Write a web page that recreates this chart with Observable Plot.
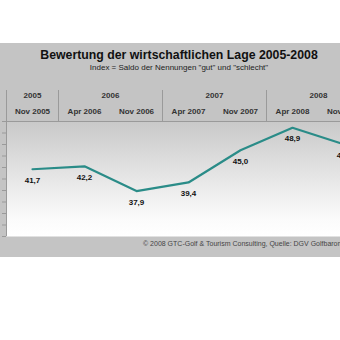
<!DOCTYPE html>
<html><head><meta charset="utf-8">
<script src="https://cdn.jsdelivr.net/npm/d3@7"></script>
<script src="https://cdn.jsdelivr.net/npm/@observablehq/plot@0.6"></script>
<style>
html,body{margin:0;padding:0;background:#fff;overflow:hidden;width:340px;height:340px}
#box{position:absolute;left:0;top:43px;width:370px;height:214px;background:#c4c4c4;font-family:"Liberation Sans",Arial,sans-serif}
#title{position:absolute;top:5px;left:0;width:358px;text-align:center;font-weight:bold;font-size:12.3px;line-height:14px;color:#111}
#subtitle{position:absolute;top:20px;left:0;width:358px;text-align:center;font-size:8px;line-height:10px;color:#222}
#header{position:absolute;top:47px;left:0}
#plot{position:absolute;top:78px;left:0}
#caption{position:absolute;top:196px;left:143px;font-size:7px;line-height:9px;color:#444;white-space:nowrap}
svg{display:block;overflow:visible}
</style>
</head><body>
<div id="box">
  <div id="title"></div>
  <div id="subtitle"></div>
  <div id="header"></div>
  <div id="plot"></div>
  <div id="caption"></div>
</div>
<script>
const titleText = "Bewertung der wirtschaftlichen Lage 2005-2008";
const subtitleText = "Index = Saldo der Nennungen \"gut\" und \"schlecht\"";
const captionText = "© 2008 GTC-Golf & Tourism Consulting, Quelle: DGV Golfbarometer";
const months = ["Nov 2005","Apr 2006","Nov 2006","Apr 2007","Nov 2007","Apr 2008","Nov 2008"];
const values = [41.7, 42.2, 37.9, 39.4, 45.0, 48.9, 46.0];
const yDomain = [30, 50];
const yTicks = d3.range(30, 51, 2);

document.getElementById("title").textContent = titleText;
document.getElementById("subtitle").textContent = subtitleText;
document.getElementById("caption").textContent = captionText;

const data = months.map((m, i) => ({i, m, v: values[i], year: m.split(" ")[1]}));
const yearGroups = d3.groups(data, d => d.year).map(([year, ds]) => ({year, x: d3.mean(ds, d => d.i), first: ds[0].i}));
const yearBounds = [...yearGroups.map(g => g.first - 0.5), months.length - 0.5];
const monthBounds = data.map(d => d.i - 0.5).filter(b => !yearBounds.includes(b));
const xDomain = [-0.5, months.length - 0.5];
const fmt = v => v.toFixed(1).replace(".", ",");
const W = 370;
const font = "Liberation Sans, Arial, sans-serif";

const header = Plot.plot({
  width: W, height: 31,
  marginLeft: 6, marginRight: 0, marginTop: 0, marginBottom: 0,
  style: {fontFamily: font, background: "transparent", overflow: "visible"},
  x: {domain: xDomain, axis: null},
  y: {domain: ["jahr", "monat"], type: "band", padding: 0, axis: null},
  marks: [
    Plot.ruleX(yearBounds, {x: d => d, stroke: "#9a9a9a", strokeWidth: 1}),
    Plot.ruleX(monthBounds, {x: d => d, y: () => "monat", stroke: "#9a9a9a", strokeWidth: 1}),
    Plot.text(yearGroups, {x: "x", y: () => "jahr", text: "year", dy: -3.5, fontSize: 8, fontWeight: "bold", fill: "#333"}),
    Plot.text(data, {x: "i", y: () => "monat", text: "m", dy: -3, fontSize: 8, fontWeight: "bold", fill: "#333"})
  ]
});
document.getElementById("header").append(header);

const defs = () => {
  const g = d3.create("svg:defs");
  const lg = g.append("linearGradient").attr("id", "bg").attr("x1", 0).attr("y1", 0).attr("x2", 0).attr("y2", 1);
  lg.append("stop").attr("offset", 0).attr("stop-color", "#c9c9c9");
  lg.append("stop").attr("offset", 0.85).attr("stop-color", "#fbfbfb");
  lg.append("stop").attr("offset", 1).attr("stop-color", "#ffffff");
  return g.node();
};

const chart = Plot.plot({
  width: W, height: 116,
  marginLeft: 6, marginRight: 0, marginTop: 0, marginBottom: 1,
  style: {fontFamily: font, background: "transparent", overflow: "visible"},
  x: {domain: xDomain, axis: null},
  y: {domain: yDomain, axis: null, label: null},
  marks: [
    defs,
    Plot.frame({fill: "url(#bg)", stroke: null}),
    Plot.ruleY([yDomain[1]], {stroke: "#9a9a9a"}),
    Plot.ruleX([yearBounds[0]], {stroke: "#9a9a9a"}),
    Plot.axisY({ticks: yTicks, tickSize: 4, tickFormat: () => "", label: null, stroke: "#9a9a9a"}),
    Plot.line(data, {x: "i", y: "v", stroke: "#2a8c88", strokeWidth: 2.2}),
    Plot.text(data, {x: "i", y: "v", text: d => fmt(d.v), dy: 11, fontSize: 8, fontWeight: "bold", fill: "#111"})
  ]
});
document.getElementById("plot").append(chart);
</script>
</body></html>
